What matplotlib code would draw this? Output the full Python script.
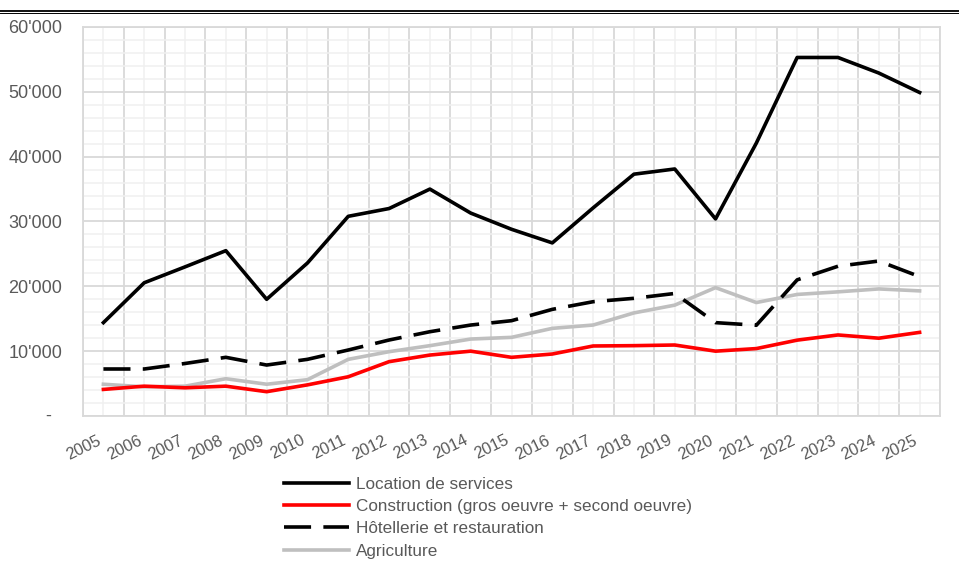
import matplotlib
matplotlib.use("Agg")
import matplotlib.pyplot as plt
from matplotlib.lines import Line2D
import numpy as np

plt.rcParams['font.family'] = ['Liberation Sans', 'DejaVu Sans']

years = [str(y) for y in range(2005, 2026)]

location_services = [14400, 20550, 23000, 25500, 18000, 23600, 30800, 32000, 35000, 31300,
                     28800, 26700, 32100, 37300, 38100, 30400, 42100, 55300, 55300, 52900, 49900]
construction = [4100, 4600, 4350, 4600, 3750, 4800, 6050, 8380, 9400, 10000,
                9050, 9560, 10800, 10850, 10950, 10000, 10400, 11700, 12500, 12000, 12900]
hotellerie = [7250, 7250, 8100, 9050, 7860, 8740, 10180, 11720, 13000, 14030,
              14700, 16450, 17630, 18150, 18900, 14400, 14000, 21000, 23100, 23900, 21500]
agriculture = [4900, 4500, 4600, 5750, 4900, 5600, 8740, 9920, 10850, 11870,
               12130, 13520, 14030, 15900, 17100, 19800, 17500, 18750, 19150, 19600, 19300]

labels = ["Location de services",
          "Construction (gros oeuvre + second oeuvre)",
          "Hôtellerie et restauration",
          "Agriculture"]

txt = '#595959'
major_grid = '#d9d9d9'
minor_grid = '#f0f0f0'

fig = plt.figure(figsize=(9.59, 5.62), dpi=100)
ax = fig.add_axes([83 / 959, 1 - 416 / 562, 857 / 959, 389 / 562])

x = np.arange(len(years))
lw = 2.6
ax.plot(x, location_services, color='black', lw=lw, label=labels[0], zorder=5)
ax.plot(x, construction, color='#ff0000', lw=lw, label=labels[1], zorder=4)
ax.plot(x, hotellerie, color='black', lw=lw, ls=(0, (7.5, 3.4)), label=labels[2], zorder=5)
ax.plot(x, agriculture, color='#bfbfbf', lw=lw, label=labels[3], zorder=3)

ax.set_xlim(-0.5, len(years) - 0.5)
ax.set_ylim(0, 60000)

ax.set_xticks(x)
ax.set_xticklabels(years, rotation=26, ha='right')
ax.set_xticks(np.arange(-0.5, len(years)), minor=True)
ax.set_yticks(np.arange(0, 60001, 10000))
ax.set_yticks(np.arange(0, 60001, 2000), minor=True)
ylabels = [f"{v:,}".replace(',', "'") if v else '' for v in range(0, 60001, 10000)]
ax.set_yticklabels(ylabels)
ax.annotate('-', xy=(0, 0), xycoords=('axes fraction', 'data'), xytext=(-23, 0),
            textcoords='offset points', ha='right', va='center', fontsize=13, color=txt)

ax.grid(which='minor', axis='x', color=major_grid, lw=1.3, zorder=1)
ax.grid(which='major', axis='x', color=minor_grid, lw=1.1, zorder=0)
ax.grid(which='major', axis='y', color=major_grid, lw=1.3, zorder=1)
ax.grid(which='minor', axis='y', color=minor_grid, lw=1.1, zorder=0)
ax.set_axisbelow(True)

ax.tick_params(which='both', length=0)
ax.tick_params(axis='y', pad=15, labelsize=13, labelcolor=txt)
ax.tick_params(axis='x', pad=12, labelsize=11.8, labelcolor=txt)
for s in ax.spines.values():
    s.set_color(major_grid)
    s.set_linewidth(1.3)

fig.legend(loc='upper left', bbox_to_anchor=(284 / 959, 1 - 477 / 562), frameon=False,
           fontsize=12.3, labelcolor=txt, handlelength=3.8, handletextpad=0.4,
           labelspacing=0.42, borderpad=0, borderaxespad=0)

# double rule across the top
fig.add_artist(Line2D([0, 1], [1 - 10.8 / 562] * 2, transform=fig.transFigure,
                      color='black', lw=1.3))
fig.add_artist(Line2D([0, 1], [1 - 13.3 / 562] * 2, transform=fig.transFigure,
                      color='black', lw=0.7))

fig.savefig('out.png', dpi=100)
